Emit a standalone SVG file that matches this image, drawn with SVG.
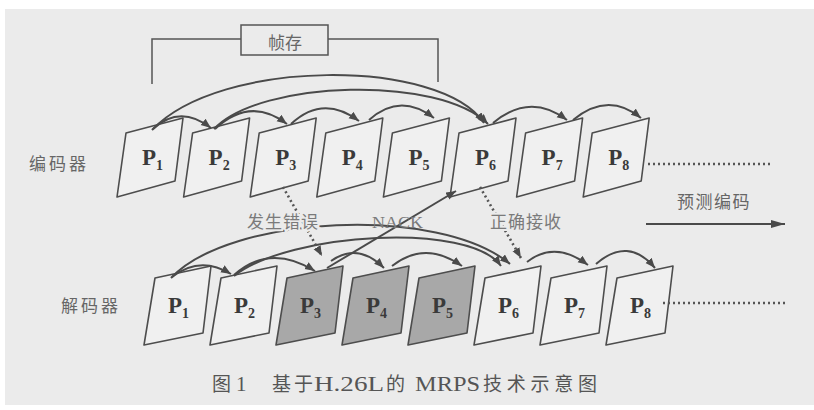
<svg xmlns="http://www.w3.org/2000/svg" width="814" height="410" viewBox="0 0 814 410">
<style>
.frame{fill:#f0f0f0;stroke:#4d4d4d;stroke-width:1.6;stroke-linejoin:round}
.shade{fill:#a8a8a8}
.pl{font-family:"Liberation Serif",serif;font-weight:bold;font-size:23px;fill:#3a3a3a}
.sub{font-size:14px}
.cn{font-family:"Noto Sans CJK SC",sans-serif;font-size:17px;fill:#666}
.lbl{font-family:"Noto Sans CJK SC",sans-serif;font-size:17px;fill:#7a7a7a;paint-order:stroke;stroke:#ebebeb;stroke-width:4px}
.arc{fill:none;stroke:#4a4a4a;stroke-width:2;marker-end:url(#ah)}
.dot{fill:none;stroke:#555;stroke-width:2.6;stroke-dasharray:2 3}
.brk{fill:none;stroke:#555;stroke-width:1.5}
.cap{font-family:"Liberation Serif","Noto Sans CJK SC",serif;font-size:21px;fill:#555}
.capc{font-family:"Noto Sans CJK SC",sans-serif;font-size:19px;fill:#555}
</style>
<defs>
<marker id="ah" markerUnits="userSpaceOnUse" markerWidth="12" markerHeight="10" refX="10" refY="4" orient="auto">
<path d="M0,0 L10,4 L0,8 Z" fill="#4a4a4a"/>
</marker>
<marker id="ah2" markerUnits="userSpaceOnUse" markerWidth="16" markerHeight="10" refX="14" refY="4" orient="auto">
<path d="M0,0 L14,4 L0,8 Z" fill="#4a4a4a"/>
</marker>
<path id="enc" d="M0,0 L9,-64 L66,-79 L58,-16 Z"/>
<path id="dec" d="M0,0 L11,-67 L67,-79 L59,-12 Z"/>
</defs>
<rect x="0" y="0" width="814" height="410" fill="#ffffff"/>
<rect x="5" y="9" width="809" height="396" fill="#ebebeb"/>

<g id="framestore">
<polyline class="brk" points="152,84 152,39 241,39"/>
<rect x="241" y="25" width="87" height="30" fill="none" stroke="#555" stroke-width="1.5"/>
<polyline class="brk" points="328,39 438,39 438,82"/>
<text x="285" y="49" class="cn" text-anchor="middle" font-size="18">帧存</text>
</g>

<g id="row-labels">
<text x="29" y="170" class="cn" letter-spacing="3" font-size="18">编码器</text>
<text x="61" y="312" class="cn" letter-spacing="3" font-size="18">解码器</text>
</g>

<g id="encoder">
<g id="e1"><use href="#enc" x="117" y="197" class="frame"/><text class="pl" x="142" y="165">P<tspan class="sub" dy="5">1</tspan></text></g>
<g id="e2"><use href="#enc" x="183.6" y="197" class="frame"/><text class="pl" x="208.6" y="165">P<tspan class="sub" dy="5">2</tspan></text></g>
<g id="e3"><use href="#enc" x="250.2" y="197" class="frame"/><text class="pl" x="275.2" y="165">P<tspan class="sub" dy="5">3</tspan></text></g>
<g id="e4"><use href="#enc" x="316.8" y="197" class="frame"/><text class="pl" x="341.8" y="165">P<tspan class="sub" dy="5">4</tspan></text></g>
<g id="e5"><use href="#enc" x="383.4" y="197" class="frame"/><text class="pl" x="408.4" y="165">P<tspan class="sub" dy="5">5</tspan></text></g>
<g id="e6"><use href="#enc" x="450" y="197" class="frame"/><text class="pl" x="475" y="165">P<tspan class="sub" dy="5">6</tspan></text></g>
<g id="e7"><use href="#enc" x="516.6" y="197" class="frame"/><text class="pl" x="541.6" y="165">P<tspan class="sub" dy="5">7</tspan></text></g>
<g id="e8"><use href="#enc" x="583.2" y="197" class="frame"/><text class="pl" x="608.2" y="165">P<tspan class="sub" dy="5">8</tspan></text></g>
</g>

<g id="decoder">
<g id="d1"><use href="#dec" x="144" y="345" class="frame"/><text class="pl" x="168" y="313">P<tspan class="sub" dy="5">1</tspan></text></g>
<g id="d2"><use href="#dec" x="210" y="345" class="frame"/><text class="pl" x="234" y="313">P<tspan class="sub" dy="5">2</tspan></text></g>
<g id="d3"><use href="#dec" x="276" y="345" class="frame shade"/><text class="pl" x="300" y="313">P<tspan class="sub" dy="5">3</tspan></text></g>
<g id="d4"><use href="#dec" x="342" y="345" class="frame shade"/><text class="pl" x="366" y="313">P<tspan class="sub" dy="5">4</tspan></text></g>
<g id="d5"><use href="#dec" x="408" y="345" class="frame shade"/><text class="pl" x="432" y="313">P<tspan class="sub" dy="5">5</tspan></text></g>
<g id="d6"><use href="#dec" x="474" y="345" class="frame"/><text class="pl" x="498" y="313">P<tspan class="sub" dy="5">6</tspan></text></g>
<g id="d7"><use href="#dec" x="540" y="345" class="frame"/><text class="pl" x="564" y="313">P<tspan class="sub" dy="5">7</tspan></text></g>
<g id="d8"><use href="#dec" x="606" y="345" class="frame"/><text class="pl" x="630" y="313">P<tspan class="sub" dy="5">8</tspan></text></g>
</g>

<g id="connectors">
<path class="arc" d="M153,129 Q180,104 211,128"/>
<path class="arc" d="M215,129 Q250,96 287,124"/>
<path class="arc" d="M291,124 Q323,94 359,121"/>
<path class="arc" d="M369,120 Q400,92 434,118"/>
<path class="arc" d="M152,130 C220,58 440,58 484,123"/>
<path class="arc" d="M214,129 C260,80 440,75 488,124"/>
<path class="arc" d="M493,123 Q530,92 567,120"/>
<path class="arc" d="M573,120 Q608,91 641,118"/>

<path class="arc" d="M172,277 Q200,255 231,274"/>
<path class="arc" d="M234,275 Q270,243 315,271"/>
<path class="arc" d="M331,261 Q358,242 384,268"/>
<path class="arc" d="M392,266 Q425,240 462,266"/>
<path class="arc" d="M527,262 Q555,240 588,265"/>
<path class="arc" d="M596,264 Q628,236 655,268"/>
<path class="arc" d="M171,278 C230,215 440,205 510,264"/>
<path class="arc" d="M234,276 C290,232 470,222 501,266"/>
<path class="arc" d="M327,268 L456,191"/>

<path class="dot" d="M283,187 L322,256" marker-end="url(#ah)"/>
<path class="dot" d="M480,187 L521,258" marker-end="url(#ah)"/>
<path class="dot" d="M648,164 L771,164"/>
<path class="dot" d="M663,303 L787,303"/>
<path d="M646,224 L785,224" fill="none" stroke="#4a4a4a" stroke-width="2" marker-end="url(#ah2)"/>
</g>

<g id="labels">
<text class="lbl" x="247" y="228" letter-spacing="1">发生错误</text>
<text x="372" y="228" font-family="Liberation Serif,serif" font-size="17" fill="#7a7a7a" textLength="51" lengthAdjust="spacingAndGlyphs">NACK</text>
<text class="lbl" x="490" y="228" letter-spacing="1">正确接收</text>
<text class="cn" x="677" y="208" font-size="18" letter-spacing="1.5">预测编码</text>
</g>

<g id="caption">
<text class="capc" x="212" y="391">图</text>
<text class="cap" x="236" y="391">1</text>
<text class="capc" x="272" y="391" textLength="41" lengthAdjust="spacing">基于</text>
<text class="cap" x="314" y="391" textLength="70" lengthAdjust="spacingAndGlyphs">H.26L</text>
<text class="capc" x="386" y="391">的</text>
<text class="cap" x="415" y="391" textLength="65" lengthAdjust="spacingAndGlyphs">MRPS</text>
<text class="capc" x="483" y="391" textLength="114" lengthAdjust="spacing">技术示意图</text>
</g>
</svg>
